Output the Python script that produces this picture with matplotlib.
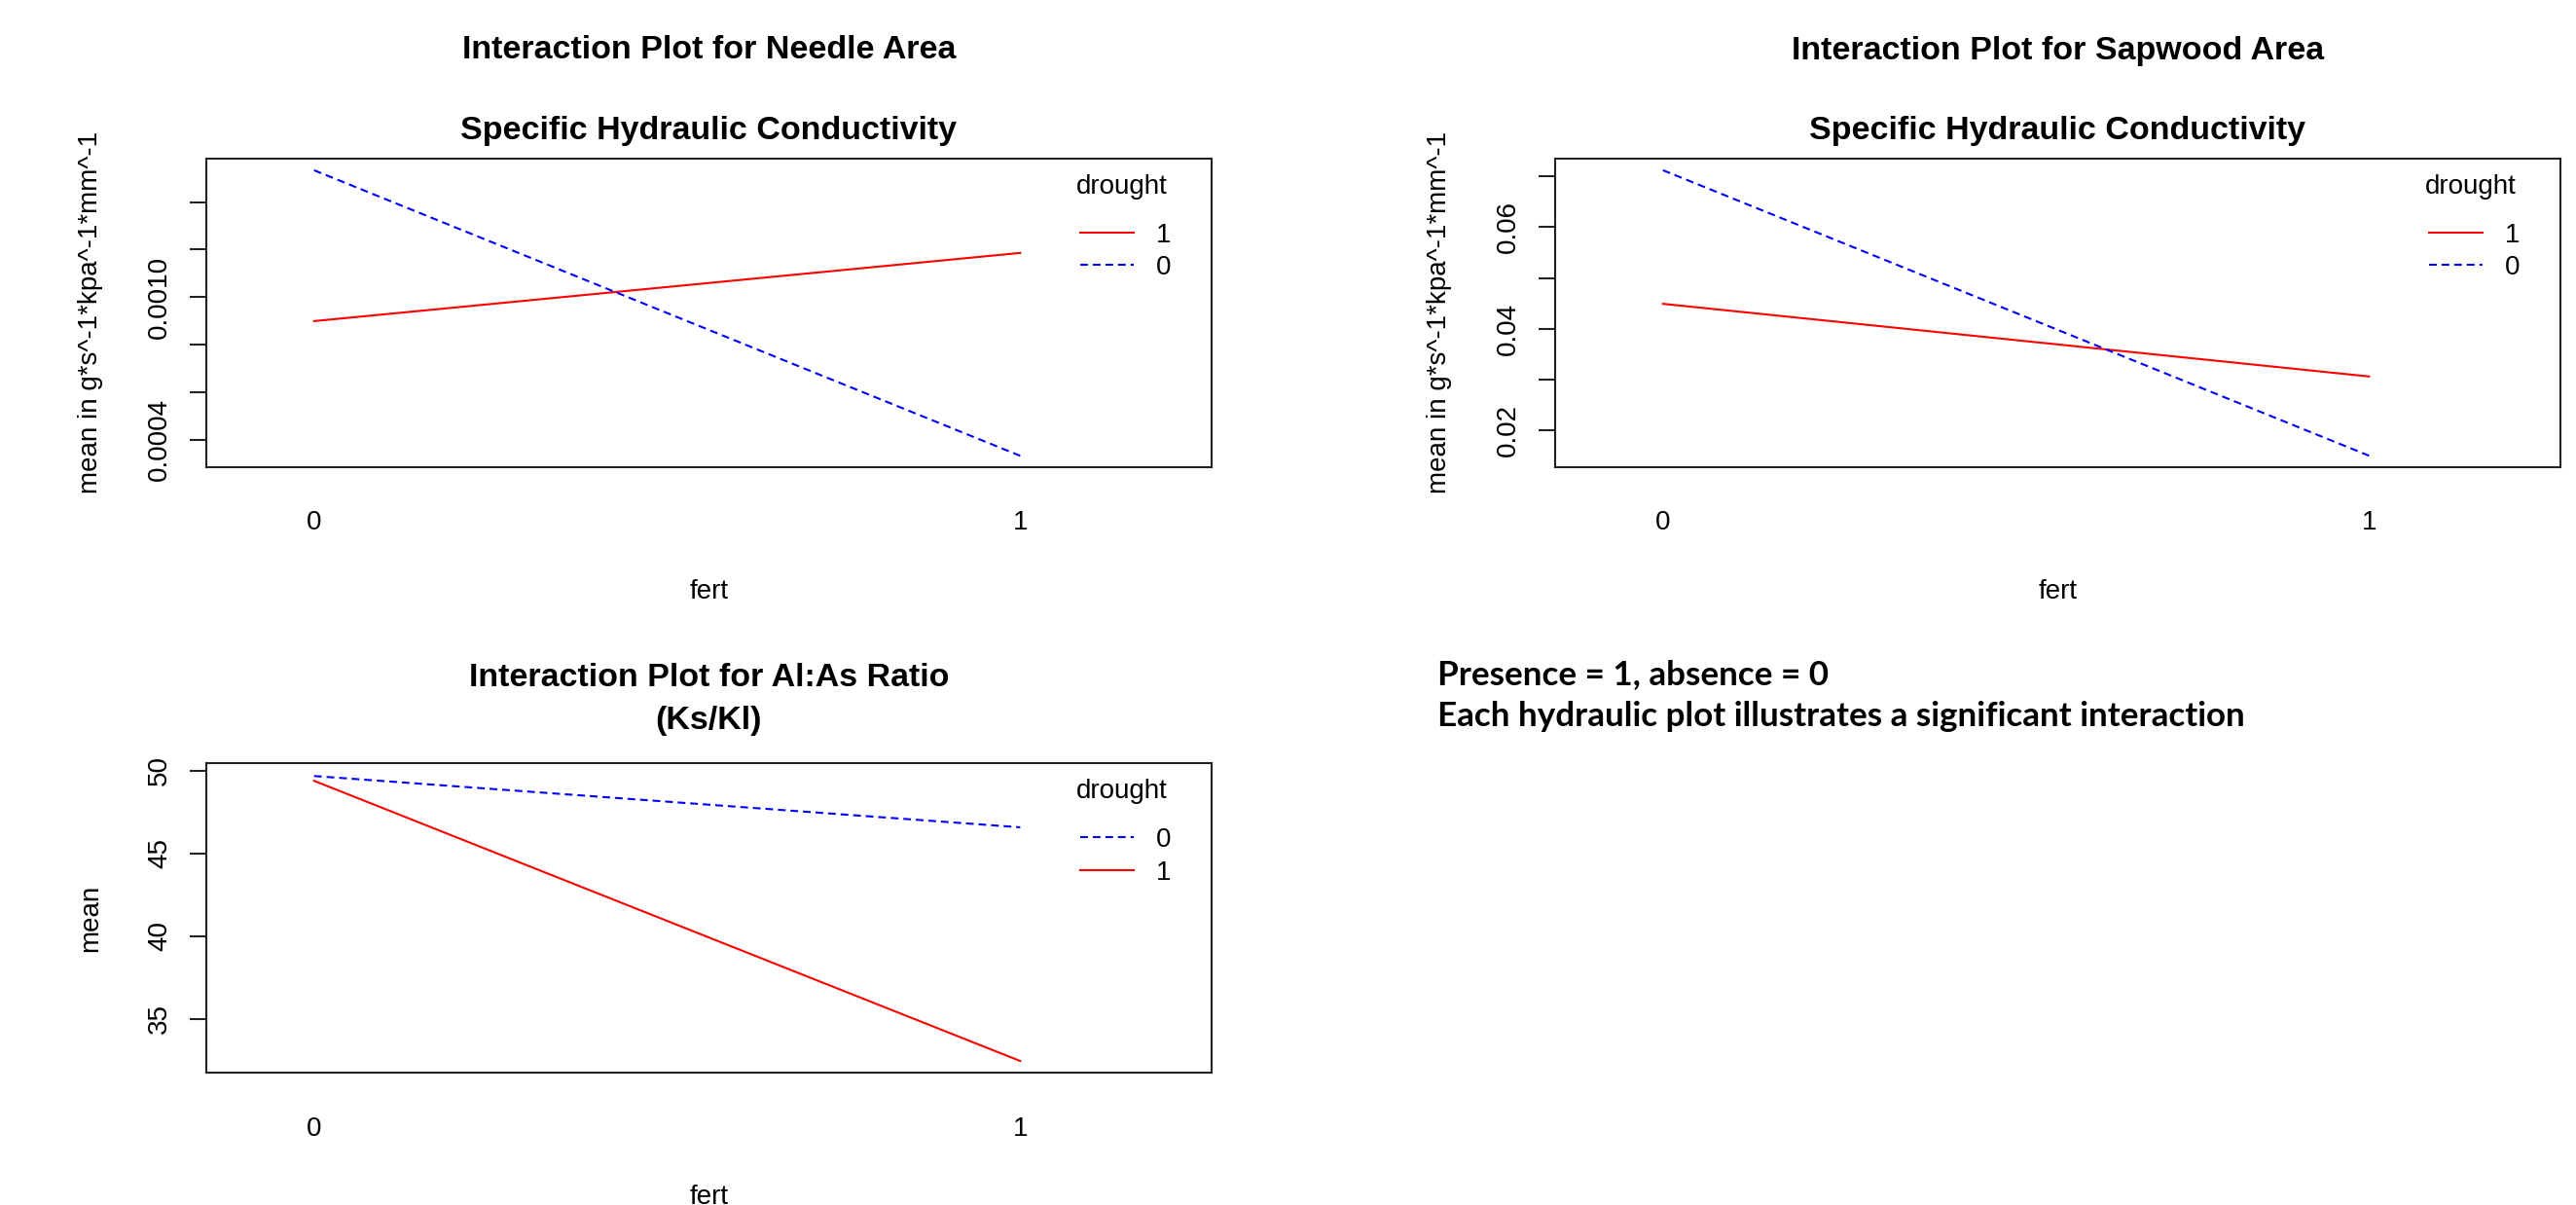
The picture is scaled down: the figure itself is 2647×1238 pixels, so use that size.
import matplotlib
matplotlib.use("Agg")
import matplotlib.pyplot as plt
import numpy as np

plt.rcParams['font.family'] = ['Liberation Sans', 'DejaVu Sans']

# factor levels
fert = ["0", "1"]

# Needle area: specific hydraulic conductivity (means per drought level)
needle_d1 = [0.000899, 0.001186]
needle_d0 = [0.001534, 0.000332]
needle_ticks = [0.0004, 0.0006, 0.0008, 0.0010, 0.0012, 0.0014]
needle_ticklabels = ["0.0004", "", "", "0.0010", "", ""]

# Sapwood area: specific hydraulic conductivity
sap_d1 = [0.0449, 0.0306]
sap_d0 = [0.0712, 0.0150]
sap_ticks = [0.02, 0.03, 0.04, 0.05, 0.06, 0.07]
sap_ticklabels = ["0.02", "", "0.04", "", "0.06", ""]

# Al:As ratio (Ks/Kl)
ratio_d0 = [49.67, 46.57]
ratio_d1 = [49.38, 32.45]
ratio_ticks = [35, 40, 45, 50]
ratio_ticklabels = ["35", "40", "45", "50"]

ylab_cond = "mean in g*s^-1*kpa^-1*mm^-1"

W, H = 2647, 1238
fig = plt.figure(figsize=(W / 100, H / 100), dpi=100)

x = np.arange(len(fert))
red_kw = dict(color='red', lw=1.5, ls='-')
blue_kw = dict(color='blue', lw=1.5, ls=(0, (3.8, 2.4)))


def style_axes(ax, ticks, ticklabels):
    ax.set_xlim(-0.153, 1.271)
    ax.set_xticks(x)
    ax.set_xticklabels(fert)
    ax.set_yticks(ticks)
    ax.set_yticklabels(ticklabels)
    ax.tick_params(axis='x', length=0, pad=32, labelsize=20)
    ax.tick_params(axis='y', length=12, width=1.5, pad=13, labelsize=20,
                   labelrotation=90, color='#222222')
    for lab in ax.get_yticklabels():
        lab.set_va('center')
    for s in ax.spines.values():
        s.set_linewidth(1.5)
        s.set_color('#222222')
    ax.set_xlabel("fert", fontsize=20, labelpad=32)
    # R-style legend: title above, no box
    ax.text(0.911, 0.908, "drought", transform=ax.transAxes,
            ha='center', va='center', fontsize=20)
    ax.legend(loc='upper right', bbox_to_anchor=(0.96, 0.792),
              frameon=False, fontsize=20,
              handlelength=1.95, handletextpad=0.85, labelspacing=0.27,
              borderpad=0, borderaxespad=0)


def px_axes(l, r, t, b):
    return fig.add_axes([l / W, 1 - b / H, (r - l) / W, (b - t) / H])


# panel 1: needle area
ax1 = px_axes(211.7, 1245, 162.7, 480)
ax1.plot(x, needle_d1, label="1", **red_kw)
ax1.plot(x, needle_d0, label="0", **blue_kw)
style_axes(ax1, needle_ticks, needle_ticklabels)
ax1.set_ylim(0.000284, 0.001584)

# panel 2: sapwood area
ax2 = px_axes(1597.7, 2631, 162.7, 480)
ax2.plot(x, sap_d1, label="1", **red_kw)
ax2.plot(x, sap_d0, label="0", **blue_kw)
style_axes(ax2, sap_ticks, sap_ticklabels)
ax2.set_ylim(0.01274, 0.07353)

# panel 3: Al:As ratio
ax3 = px_axes(211.7, 1245, 784, 1102.3)
ax3.plot(x, ratio_d0, label="0", **blue_kw)
ax3.plot(x, ratio_d1, label="1", **red_kw)
style_axes(ax3, ratio_ticks, ratio_ticklabels)
ax3.set_ylim(31.73, 50.45)

# titles
title_kw = dict(ha='center', va='center', fontsize=24.5, fontweight='bold')
fig.text((211.7 + 1245) / 2 / W, 1 - 52 / H, "Interaction Plot for Needle Area", **title_kw)
fig.text((211.7 + 1245) / 2 / W, 1 - 135 / H, "Specific Hydraulic Conductivity", **title_kw)
fig.text((1597.7 + 2631) / 2 / W, 1 - 52 / H, "Interaction Plot for Sapwood Area", **title_kw)
fig.text((1597.7 + 2631) / 2 / W, 1 - 135 / H, "Specific Hydraulic Conductivity", **title_kw)
fig.text((211.7 + 1245) / 2 / W, 1 - 696.5 / H, "Interaction Plot for Al:As Ratio", **title_kw)
fig.text((211.7 + 1245) / 2 / W, 1 - 740 / H, "(Ks/Kl)", **title_kw)

# y labels
ylab_kw = dict(ha='center', va='center', rotation=90, fontsize=20)
fig.text(93 / W, 1 - 321 / H, ylab_cond, **ylab_kw)
fig.text(1479 / W, 1 - 321 / H, ylab_cond, **ylab_kw)
fig.text(93 / W, 1 - 943 / H, "mean", **ylab_kw)

# note
note_kw = dict(ha='left', va='center', fontsize=25.2, fontweight='bold', family=['Lato', 'DejaVu Sans'])
fig.text(1477 / W, 1 - 693 / H, "Presence = 1, absence = 0", **note_kw)
fig.text(1477 / W, 1 - 736 / H, "Each hydraulic plot illustrates a significant interaction", **note_kw)

fig.savefig("out.png", dpi=100, facecolor='white')
